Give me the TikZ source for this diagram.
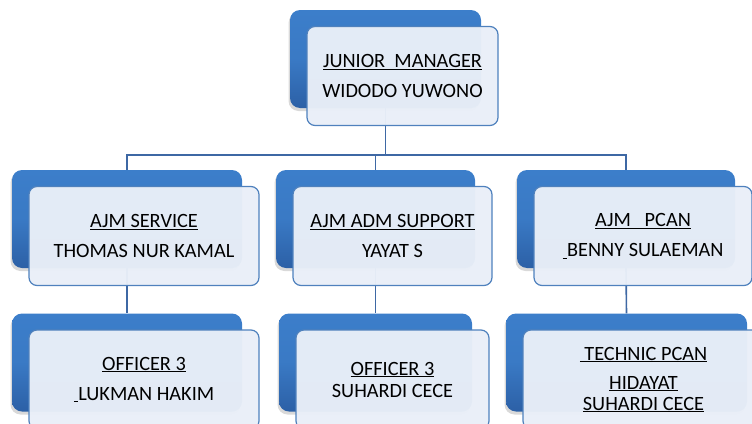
\documentclass[tikz,border=0pt]{standalone}
\usepackage{fontspec}
\setmainfont{Carlito}
\usepackage{xcolor}
\usepackage{tikz}
\usetikzlibrary{positioning,shadows}
\definecolor{bxblue}{RGB}{60,126,202}
\definecolor{bxdark}{RGB}{44,96,166}
\definecolor{bxlight}{RGB}{233,239,248}
\definecolor{bxline}{RGB}{79,129,189}
\definecolor{lnblue}{RGB}{62,104,164}

\tikzset{
  backbox/.style={rounded corners=10pt, minimum height=98pt, inner sep=0pt,
    top color=bxblue, bottom color=bxdark, middle color=bxblue!85!bxdark,
    drop shadow={shadow xshift=-1.5pt, shadow yshift=-3pt, opacity=.3}},
  frontbox/.style={draw=bxline, line width=1.2pt, rounded corners=8pt, inner sep=0pt,
    fill=bxlight, fill opacity=.97, text opacity=1, minimum height=99pt,
    align=center, font=\fontsize{20.3}{30}\selectfont},
  link/.style={draw=lnblue, line width=1.6pt}
}

\begin{document}
\begin{tikzpicture}[x=1pt, y=-1pt, on grid]

\useasboundingbox (0,0) rectangle (752,423);

%% back blocks -- starting from top row

%% first row (top)
\node[backbox, minimum width=191pt] (jmback) at (385.5,59) {};

%% second row
\node[backbox, minimum width=230pt] (svcback)  at (127,219) {};
\node[backbox, minimum width=199pt] (admback)  at (375.5,219) {};
\node[backbox, minimum width=218pt] (pcanback) at (626,219) {};

%% third row (bottom)
\node[backbox, minimum width=230pt] (offback)  at (127,362.5) {};
\node[backbox, minimum width=193pt] (sucback)  at (375.5,362.5) {};
\node[backbox, minimum width=241pt] (techback) at (626.5,362.5) {};

%% connectors
\coordinate (bus) at (385.5,155);
\draw[link] (jmback.south) -- (bus) -| (svcback.north);
\draw[link] (bus) -| (admback.north);
\draw[link] (bus) -| (pcanback.north);
\draw[link] (svcback.south) -- (offback.north);
\draw[link] (admback.south) -- (sucback.north);
\draw[link] (pcanback.south) -- (techback.north);

%% front blocks

%% first row (top)
\node[frontbox, minimum width=191pt, below right=17pt and 17pt of jmback] (jm)
  {\underline{JUNIOR\ \ MANAGER}\\WIDODO YUWONO};

%% second row
\node[frontbox, minimum width=230pt, below right=17pt and 17pt of svcback] (svc)
  {\underline{AJM SERVICE}\\THOMAS NUR KAMAL};
\node[frontbox, minimum width=199pt, below right=17pt and 17pt of admback] (adm)
  {\underline{AJM ADM SUPPORT}\\YAYAT S};
\node[frontbox, minimum width=218pt, below right=17pt and 17pt of pcanback] (pcan)
  {\underline{AJM\ \ \ PCAN}\\\underline{\ }BENNY SULAEMAN};

%% third row (bottom)
\node[frontbox, minimum width=230pt, below right=17pt and 17pt of offback] (off)
  {\underline{OFFICER 3}\\\underline{\ }LUKMAN HAKIM};
\node[frontbox, minimum width=193pt, below right=17pt and 17pt of sucback] (suc)
  {\underline{OFFICER 3}\\[-8pt]SUHARDI CECE};
\node[frontbox, minimum width=241pt, below right=17pt and 17pt of techback] (tech)
  {\underline{\ TECHNIC PCAN}\\[-1pt]\underline{HIDAYAT}\\[-9pt]\underline{SUHARDI CECE}};

\end{tikzpicture}
\end{document}
